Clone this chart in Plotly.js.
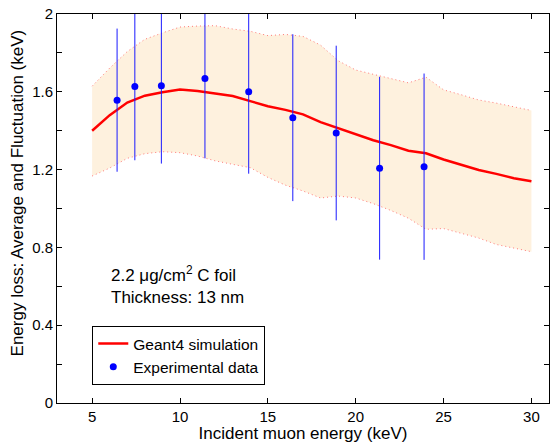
<!DOCTYPE html>
<html>
<head>
<meta charset="utf-8">
<script src="https://cdn.plot.ly/plotly-3.0.1.min.js"></script>
<style>
html,body{margin:0;padding:0;background:#fff;}
#chart{width:550px;height:443px;}
</style>
</head>
<body>
<div id="chart"></div>
<script>
// Geant4 simulation: energy (keV), average energy loss and fluctuation band (keV)
var simEnergy = [5,6,7,8,9,10,11,12,13,14,15,16,17,18,19,20,21,22,23,24,25,26,27,28,29,30];
var simMean   = [1.40,1.48,1.545,1.58,1.598,1.612,1.604,1.592,1.578,1.552,1.526,1.507,1.484,1.444,1.412,1.381,1.351,1.326,1.297,1.284,1.252,1.225,1.198,1.178,1.156,1.140];
var simUpper  = [1.629,1.722,1.807,1.87,1.903,1.933,1.938,1.940,1.923,1.911,1.889,1.895,1.885,1.840,1.760,1.712,1.690,1.668,1.646,1.675,1.610,1.585,1.558,1.542,1.522,1.504];
var simLower  = [1.167,1.208,1.258,1.282,1.292,1.287,1.270,1.245,1.227,1.210,1.160,1.120,1.090,1.054,1.064,1.054,1.025,0.990,0.950,0.893,0.897,0.873,0.848,0.815,0.795,0.778];

// Experimental data
var expEnergy = [6.42,7.43,8.94,11.42,13.91,16.42,18.89,21.36,23.89];
var expLoss   = [1.557,1.627,1.631,1.668,1.600,1.467,1.388,1.207,1.215];
var expError  = [0.368,0.379,0.400,0.410,0.421,0.429,0.449,0.470,0.479];

// Axis ticks
var xTicks = [5,10,15,20,25,30];
var yTicks = [0,0.4,0.8,1.2,1.6,2];
var yTickText = ['0','0.4','0.8','1.2','1.6','2'];

var FONT = '"Liberation Sans", Arial, Helvetica, sans-serif';

var traces = [
  {
    x: simEnergy, y: simUpper, type: 'scatter', mode: 'lines',
    line: {color: 'rgba(255,100,100,0.85)', width: 1, dash: '1px,3px'},
    showlegend: false, hoverinfo: 'skip'
  },
  {
    x: simEnergy, y: simLower, type: 'scatter', mode: 'lines',
    fill: 'tonexty', fillcolor: '#FEF1DE',
    line: {color: 'rgba(255,100,100,0.85)', width: 1, dash: '1px,3px'},
    showlegend: false, hoverinfo: 'skip'
  },
  {
    x: simEnergy, y: simMean, type: 'scatter', mode: 'lines',
    name: 'Geant4 simulation',
    line: {color: '#ff0000', width: 2.5}
  },
  {
    x: expEnergy, y: expLoss, type: 'scatter', mode: 'markers',
    name: 'Experimental data',
    marker: {color: '#0000ff', size: 7},
    error_y: {type: 'data', array: expError, visible: true, color: '#1a1aff', thickness: 1, width: 0}
  }
];

var layout = {
  width: 550, height: 443,
  margin: {l: 57, r: 1, t: 14, b: 40},
  paper_bgcolor: '#ffffff', plot_bgcolor: '#ffffff',
  font: {family: FONT, color: '#000000', size: 15},
  showlegend: true,
  xaxis: {
    range: [3, 31], tickmode: 'array', tickvals: xTicks,
    ticks: 'inside', ticklen: 5, tickcolor: '#000', tickwidth: 1,
    showline: true, linecolor: '#000', linewidth: 1, mirror: 'ticks',
    showgrid: false, zeroline: false,
    tickfont: {family: FONT, size: 15, color: '#000'},
    title: {text: 'Incident muon energy (keV)', font: {family: FONT, size: 17, color: '#000'}, standoff: 4}
  },
  yaxis: {
    range: [0, 2], tickmode: 'array', tickvals: yTicks, ticktext: yTickText,
    ticks: 'inside', ticklen: 5, tickcolor: '#000', tickwidth: 1,
    showline: true, linecolor: '#000', linewidth: 1, mirror: 'ticks',
    showgrid: false, zeroline: false,
    minor: {dtick: 0.2, ticks: 'inside', ticklen: 5, tickcolor: '#000', showgrid: false},
    tickfont: {family: FONT, size: 15, color: '#000'}
  },
  legend: {
    x: 0.0717, y: 0.198, xanchor: 'left', yanchor: 'top',
    traceorder: 'normal',
    bgcolor: '#ffffff', bordercolor: '#000000', borderwidth: 1,
    font: {family: FONT, size: 15.5, color: '#000'},
    tracegroupgap: 0
  },
  annotations: [
    {
      xref: 'paper', yref: 'paper', x: 0.1047, y: 0.303,
      xanchor: 'left', yanchor: 'middle', align: 'left', showarrow: false,
      text: '2.2 \u03bcg/cm<sup>2</sup> C foil<br>Thickness: 13 nm',
      font: {family: FONT, size: 17, color: '#000'}
    },
    {
      xref: 'paper', yref: 'paper', x: -0.0803, y: 0.54,
      xanchor: 'center', yanchor: 'middle', textangle: -90, showarrow: false,
      text: 'Energy loss: Average and Fluctuation (keV)',
      font: {family: FONT, size: 17, color: '#000'}
    }
  ]
};

Plotly.newPlot('chart', traces, layout, {displayModeBar: false, staticPlot: true});
</script>
</body>
</html>
